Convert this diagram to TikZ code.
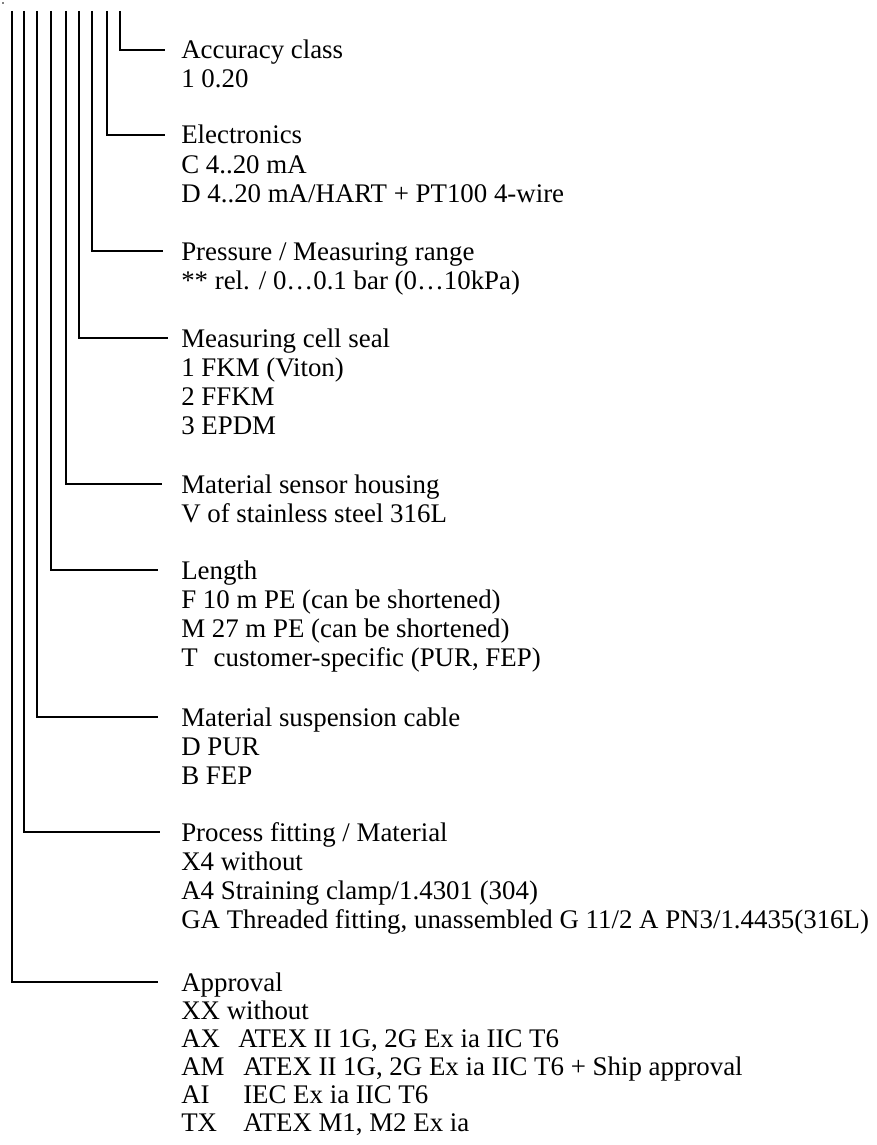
\documentclass[tikz,border=0pt]{standalone}
\usepackage{fontspec}
\setmainfont{Liberation Serif}
\begin{document}
\begin{tikzpicture}[x=0.75pt,y=-0.75pt,
  conn/.style={line width=0.95pt, line cap=butt},
  txt/.style={anchor=base west, inner sep=0pt, font=\fontsize{20.15}{24}\selectfont}]
\useasboundingbox (0,0) rectangle (876,1145);
\fill (3,3) circle (0.9);
% connectors: vertical tick from the top, then right to the label
\foreach \i/\xv/\yl/\xe in {1/120/50/165, 2/107/135/165, 3/92/251/163, 4/79/338/168,
  5/66/484/162, 6/51/570/158, 7/37/717/158, 8/24/832/160, 9/12/982/158}{
  \coordinate (top\i) at (\xv,11);
  \coordinate (end\i) at (\xe,\yl);
  \draw[conn] (top\i) |- (end\i);
}
% Accuracy class
\node[txt] (a0) at (181,59) {Accuracy class};
\node[txt] (a1) at (181,88) {1 0.20};
% Electronics
\node[txt] (b0) at (181,144) {Electronics};
\node[txt] (b1) at (181,173) {C 4..20 mA};
\node[txt] (b2) at (181,202) {D 4..20 mA/HART + PT100 4-wire};
% Pressure
\node[txt] (c0) at (181,260) {Pressure / Measuring range};
\node[txt] (c1) at (181,289) {** rel. / 0…0.1 bar (0…10kPa)};
% Measuring cell seal
\node[txt] (d0) at (181,347) {Measuring cell seal};
\node[txt] (d1) at (181,376) {1 FKM (Viton)};
\node[txt] (d2) at (181,405) {2 FFKM};
\node[txt] (d3) at (181,434) {3 EPDM};
% Material sensor housing
\node[txt] (e0) at (181,493) {Material sensor housing};
\node[txt] (e1) at (181,522) {V of stainless steel 316L};
% Length
\node[txt] (f0) at (181,579) {Length};
\node[txt] (f1) at (181,608) {F 10 m PE (can be shortened)};
\node[txt] (f2) at (181,637) {M 27 m PE (can be shortened)};
\node[txt] (f3) at (181,666) {T\hspace{12pt}customer-specific (PUR, FEP)};
% Material suspension cable
\node[txt] (g0) at (181,726) {Material suspension cable};
\node[txt] (g1) at (181,755) {D PUR};
\node[txt] (g2) at (181,784) {B FEP};
% Process fitting
\node[txt] (h0) at (181,841) {Process fitting / Material};
\node[txt] (h1) at (181,870) {X4 without};
\node[txt] (h2) at (181,899) {A4 Straining clamp/1.4301 (304)};
\node[txt] (h3) at (181,928) {GA Threaded fitting, unassembled G 11/2 A PN3/1.4435(316L)};
% Approval
\node[txt] (i0) at (181,991) {Approval};
\node[txt] (i1) at (181,1019) {XX without};
\node[txt] (i2) at (181,1047) {\makebox[42.75pt][l]{AX}ATEX II 1G, 2G Ex ia IIC T6};
\node[txt] (i3) at (181,1075) {\makebox[46.5pt][l]{AM}ATEX II 1G, 2G Ex ia IIC T6 + Ship approval};
\node[txt] (i4) at (181,1103) {\makebox[46.5pt][l]{AI}IEC Ex ia IIC T6};
\node[txt] (i5) at (181,1131) {\makebox[46.5pt][l]{TX}ATEX M1, M2 Ex ia};
\end{tikzpicture}
\end{document}
